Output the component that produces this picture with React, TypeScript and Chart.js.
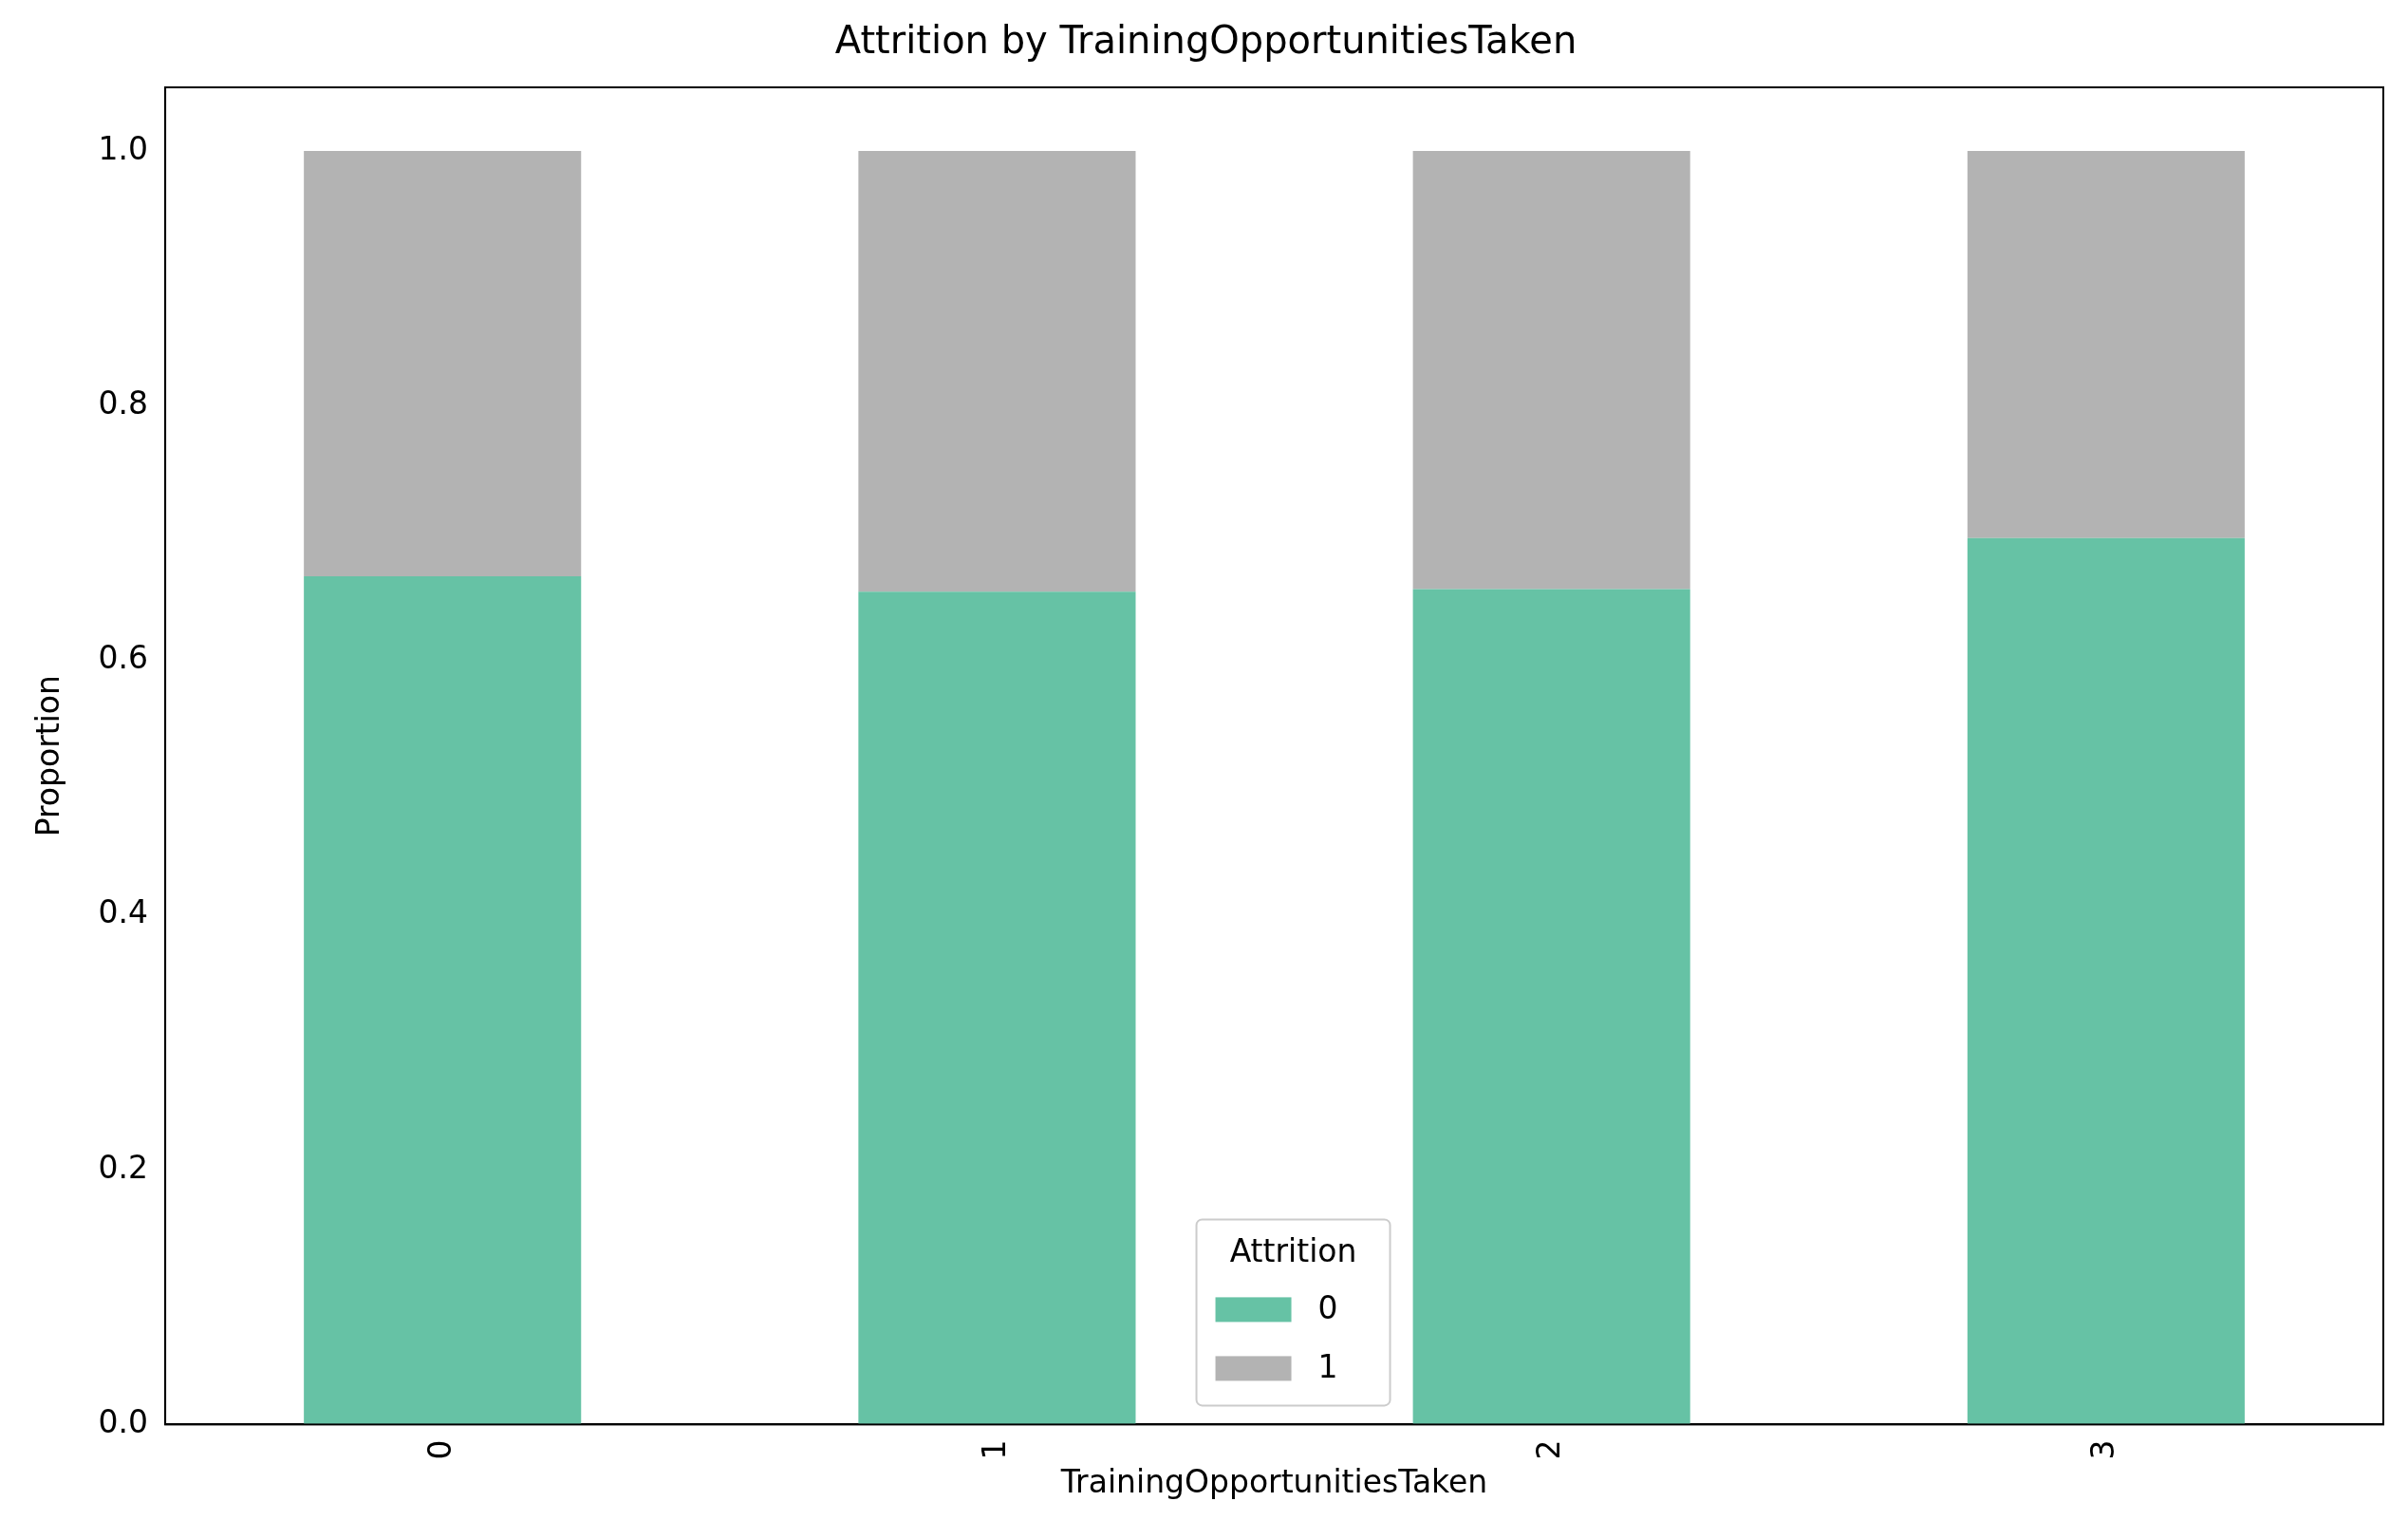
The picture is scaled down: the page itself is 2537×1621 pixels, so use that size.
import { useEffect, useRef } from 'react';
import { Chart, registerables } from 'chart.js';

Chart.register(...registerables);

const categories = ['0', '1', '2', '3'];
const stayed = [0.666, 0.654, 0.656, 0.696];
const left = [0.334, 0.346, 0.344, 0.304];
const yTicks = [0, 0.2, 0.4, 0.6, 0.8, 1.0];

const FONT = '"DejaVu Sans", sans-serif';

const legendInside = {
  id: 'legendInside',
  afterDraw(chart: Chart) {
    const { ctx, chartArea } = chart;
    const w = 204, h = 196;
    const x = (chartArea.left + chartArea.right) / 2 - w / 2 + 20;
    const y = chartArea.bottom - h - 20;
    ctx.save();
    ctx.fillStyle = 'rgba(255,255,255,0.8)';
    ctx.strokeStyle = '#cccccc';
    ctx.lineWidth = 2;
    ctx.beginPath();
    ctx.roundRect(x, y, w, h, 6);
    ctx.fill();
    ctx.stroke();
    ctx.fillStyle = '#000';
    ctx.font = `33px ${FONT}`;
    ctx.textAlign = 'center';
    ctx.textBaseline = 'middle';
    ctx.fillText('Attrition', x + w / 2, y + 36);
    chart.data.datasets.forEach((ds, i) => {
      const ry = y + 94 + i * 62;
      ctx.fillStyle = ds.backgroundColor as string;
      ctx.fillRect(x + 20, ry - 12, 80, 26);
      ctx.fillStyle = '#000';
      ctx.textAlign = 'left';
      ctx.fillText(String(ds.label), x + 128, ry + 2);
    });
    ctx.restore();
  },
};

export default function App() {
  const canvasRef = useRef<HTMLCanvasElement | null>(null);

  useEffect(() => {
    if (!canvasRef.current) return;
    const chart = new Chart(canvasRef.current, {
      type: 'bar',
      data: {
        labels: categories,
        datasets: [
          { label: '0', data: stayed, backgroundColor: '#66c2a5' },
          { label: '1', data: left, backgroundColor: '#b3b3b3' },
        ],
      },
      options: {
        animation: false,
        responsive: true,
        maintainAspectRatio: false,
        layout: { padding: { top: 14, right: 18, left: 22, bottom: 26 } },
        datasets: { bar: { categoryPercentage: 1, barPercentage: 0.5 } },
        plugins: {
          legend: { display: false },
          tooltip: { enabled: false },
          title: {
            display: true,
            text: 'Attrition by TrainingOpportunitiesTaken',
            font: { family: FONT, size: 40, weight: 'normal' },
            color: '#000',
            padding: { top: 0, bottom: 22 },
          },
        },
        scales: {
          x: {
            stacked: true,
            grid: { display: false, drawTicks: true, tickLength: 10, tickColor: '#000' },
            border: { color: '#000', width: 2 },
            ticks: { minRotation: 90, maxRotation: 90, color: '#000', font: { family: FONT, size: 33 }, padding: 6 },
            title: { display: true, text: 'TrainingOpportunitiesTaken', color: '#000', font: { family: FONT, size: 33 }, padding: { top: 0 } },
          },
          y: {
            stacked: true,
            min: 0,
            max: 1.05,
            afterBuildTicks: (axis) => {
              axis.ticks = yTicks.map((v) => ({ value: v }));
            },
            grid: { display: false, drawTicks: true, tickLength: 10, tickColor: '#000' },
            border: { color: '#000', width: 2 },
            ticks: { color: '#000', font: { family: FONT, size: 33 }, padding: 8, callback: (v) => Number(v).toFixed(1) },
            title: { display: true, text: 'Proportion', color: '#000', font: { family: FONT, size: 33 }, padding: { bottom: 22 } },
          },
        },
      },
      plugins: [
        legendInside,
        {
          id: 'frame',
          afterDraw(c: Chart) {
            const { ctx, chartArea } = c;
            ctx.save();
            ctx.strokeStyle = '#000';
            ctx.lineWidth = 2;
            ctx.strokeRect(chartArea.left, chartArea.top, chartArea.right - chartArea.left, chartArea.bottom - chartArea.top);
            ctx.restore();
          },
        },
      ],
    });
    return () => chart.destroy();
  }, []);

  return (
    <div style={{ width: 2521, height: 1605, background: '#fff' }}>
      <canvas ref={canvasRef} />
    </div>
  );
}
